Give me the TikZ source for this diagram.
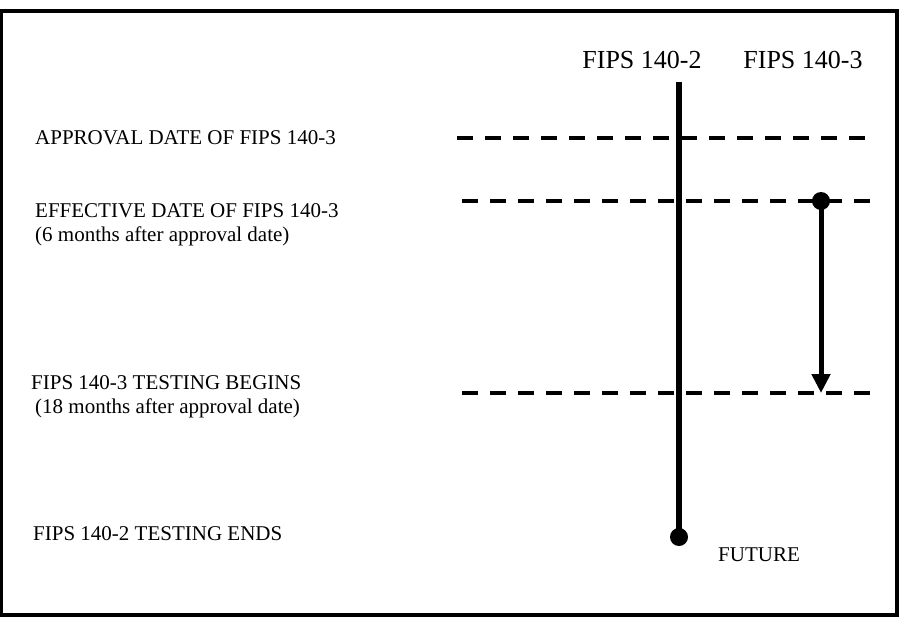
\documentclass[tikz,border=0pt]{standalone}
\usepackage{fontspec}
\setmainfont{Liberation Serif}
\usetikzlibrary{arrows.meta}

\begin{document}
\begin{tikzpicture}[x=1pt,y=-1pt,
  label/.style={anchor=base west, inner sep=0pt, font=\fontsize{21}{24}\selectfont},
  header/.style={anchor=base, inner sep=0pt, font=\fontsize{26}{30}\selectfont},
  milestone/.style={line width=4pt, dash pattern=on 16pt off 12pt},
  timeline/.style={line width=6pt},
  dot/.style={circle, fill=black, inner sep=0pt, minimum size=18pt}]

  % page area and frame
  \useasboundingbox (0,0) rectangle (902,623);
  \draw[line width=4pt] (1,11) rectangle (897,615);

  % column headings
  \node[header] (h2) at (642,69) {FIPS 140-2};
  \node[header] (h3) at (803,69) {FIPS 140-3};

  % milestone captions
  \node[label] (appr)  at (35,144) {APPROVAL DATE OF FIPS 140-3};
  \node[label] (eff)   at (35,217) {EFFECTIVE DATE OF FIPS 140-3};
  \node[label] (effb)  at (35,241) {(6 months after approval date)};
  \node[label] (test)  at (31,389) {FIPS 140-3 TESTING BEGINS};
  \node[label] (testb) at (35,413) {(18 months after approval date)};
  \node[label] (ends)  at (33,540) {FIPS 140-2 TESTING ENDS};
  \node[label] (fut)   at (718,561) {FUTURE};

  % milestone levels
  \coordinate (apprL) at (457,138);
  \coordinate (apprR) at (866,138);
  \coordinate (effL)  at (462,201);
  \coordinate (effR)  at (870,201);
  \coordinate (testL) at (462,393);
  \coordinate (testR) at (870,393);
  \draw[milestone] (apprL) -- (apprR);
  \draw[milestone] (effL) -- (effR);
  \draw[milestone] (testL) -- (testR);

  % FIPS 140-2 timeline
  \coordinate (v2top) at (679,82);
  \node[dot] (v2end) at (679,537) {};
  \draw[timeline] (v2top) -- (v2end.center);

  % FIPS 140-3 transition
  \node[dot] (v3start) at (821,201) {};
  \coordinate (v3tip) at (821,393);
  \draw[line width=5pt, -{Triangle[length=19pt,width=18pt]}] (v3start.center) -- (v3tip);
\end{tikzpicture}
\end{document}
